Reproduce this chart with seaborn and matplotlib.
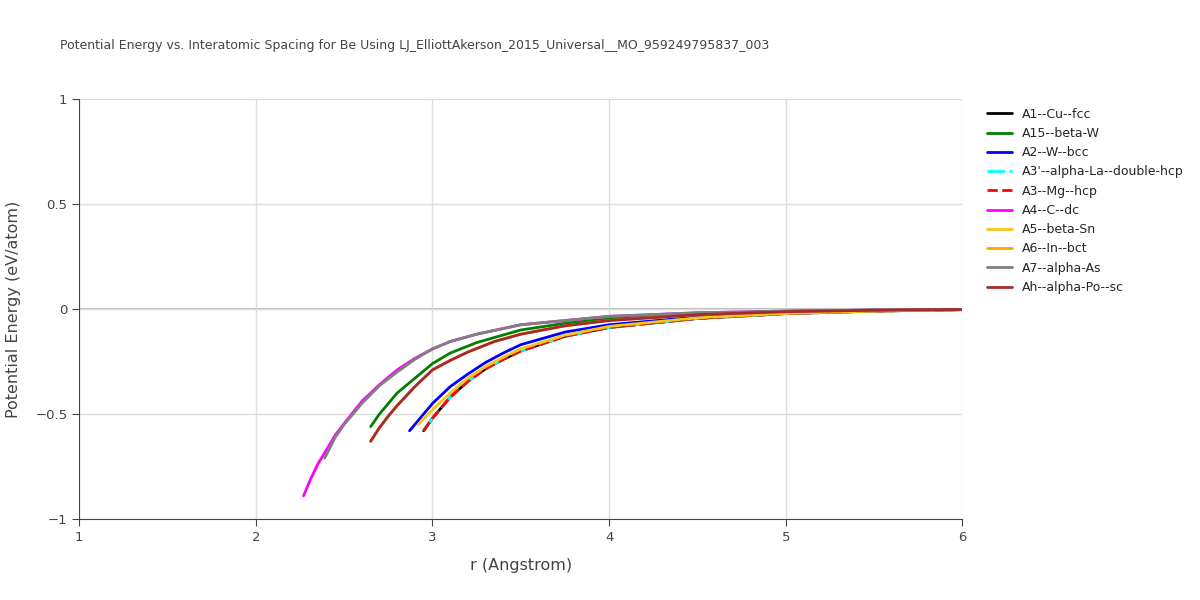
import matplotlib
matplotlib.use("Agg")
import matplotlib.pyplot as plt
import seaborn as sns
import pandas as pd

r_A1 = [2.95, 3.0, 3.05, 3.1, 3.2, 3.3, 3.4, 3.5, 3.75, 4.0, 4.5, 5.0, 5.5, 6.0]
e_A1 = [-0.58, -0.52, -0.47, -0.42, -0.345, -0.285, -0.24, -0.20, -0.13, -0.088, -0.045, -0.022, -0.010, -0.003]
r_A15 = [2.65, 2.7, 2.75, 2.8, 2.9, 3.0, 3.1, 3.25, 3.5, 3.75, 4.0, 4.5, 5.0, 5.5, 6.0]
e_A15 = [-0.56, -0.50, -0.45, -0.40, -0.33, -0.26, -0.21, -0.16, -0.10, -0.068, -0.045, -0.022, -0.011, -0.005, -0.002]
r_A2 = [2.87, 2.95, 3.0, 3.05, 3.1, 3.2, 3.3, 3.4, 3.5, 3.75, 4.0, 4.5, 5.0, 5.5, 6.0]
e_A2 = [-0.58, -0.50, -0.45, -0.41, -0.37, -0.31, -0.255, -0.21, -0.17, -0.11, -0.075, -0.038, -0.019, -0.009, -0.003]
r_A5 = [2.92, 3.0, 3.05, 3.1, 3.2, 3.3, 3.4, 3.5, 3.75, 4.0, 4.5, 5.0, 5.5, 6.0]
e_A5 = [-0.55, -0.48, -0.44, -0.40, -0.33, -0.275, -0.23, -0.19, -0.125, -0.083, -0.042, -0.021, -0.010, -0.003]
r_Ah = [2.65, 2.7, 2.75, 2.8, 2.9, 3.0, 3.1, 3.2, 3.35, 3.5, 3.75, 4.0, 4.5, 5.0, 5.5, 6.0]
e_Ah = [-0.63, -0.565, -0.51, -0.46, -0.37, -0.29, -0.245, -0.205, -0.155, -0.12, -0.08, -0.055, -0.027, -0.013, -0.006, -0.002]
r_A4 = [2.27, 2.31, 2.35, 2.4, 2.45, 2.5, 2.6, 2.7, 2.8, 2.9, 3.0, 3.1, 3.25, 3.5, 4.0, 4.5, 5.0, 5.5, 6.0]
e_A4 = [-0.89, -0.81, -0.74, -0.67, -0.60, -0.545, -0.44, -0.36, -0.29, -0.235, -0.19, -0.155, -0.12, -0.075, -0.035, -0.018, -0.010, -0.005, -0.002]
r_A7 = [2.39, 2.45, 2.5, 2.6, 2.7, 2.8, 2.9, 3.0, 3.1, 3.25, 3.5, 4.0, 4.5, 5.0, 5.5, 6.0]
e_A7 = [-0.71, -0.61, -0.55, -0.45, -0.365, -0.30, -0.24, -0.19, -0.155, -0.12, -0.075, -0.035, -0.018, -0.010, -0.005, -0.002]

series = [
    ("A1--Cu--fcc", r_A1, e_A1, "black", "-"),
    ("A15--beta-W", r_A15, e_A15, "green", "-"),
    ("A2--W--bcc", r_A2, e_A2, "blue", "-"),
    ("A3'--alpha-La--double-hcp", r_A1, e_A1, "cyan", "-."),
    ("A3--Mg--hcp", r_A1, e_A1, "red", "--"),
    ("A4--C--dc", r_A4, e_A4, "magenta", "-"),
    ("A5--beta-Sn", r_A5, e_A5, "#f5c518", "-"),
    ("A6--In--bct", r_Ah, e_Ah, "orange", "-"),
    ("A7--alpha-As", r_A7, e_A7, "gray", "-"),
    ("Ah--alpha-Po--sc", r_Ah, e_Ah, "brown", "-"),
]

sns.set_style("white")
fig = plt.figure(figsize=(12, 6), dpi=100)
ax = fig.add_axes([0.066, 0.135, 0.736, 0.70])
for name, r, e, c, ls in series:
    df = pd.DataFrame({"r": r, "E": e})
    sns.lineplot(data=df, x="r", y="E", ax=ax, color=c, linestyle=ls, lw=2, label=name)
ax.set_xlim(1, 6)
ax.set_ylim(-1, 1)
ax.set_xticks([1, 2, 3, 4, 5, 6])
ax.set_yticks([-1, -0.5, 0, 0.5, 1])
ax.set_yticklabels(["−1", "−0.5", "0", "0.5", "1"])
ax.grid(True, color="#dddddd", lw=1)
ax.axhline(0, color="#bbbbbb", lw=1.5, zorder=0)
for s in ["top", "right"]:
    ax.spines[s].set_visible(False)
ax.spines["left"].set_color("#444444")
ax.spines["bottom"].set_color("#444444")
ax.tick_params(colors="#444444", labelsize=9.5, length=5, direction="out", left=True, bottom=True)
ax.set_xlabel("r (Angstrom)", fontsize=11.5, color="#444444", labelpad=10)
ax.set_ylabel("Potential Energy (eV/atom)", fontsize=11.5, color="#444444", labelpad=10)
fig.text(0.05, 0.918, "Potential Energy vs. Interatomic Spacing for Be Using LJ_ElliottAkerson_2015_Universal__MO_959249795837_003",
         fontsize=9, color="#444444")
ax.legend(loc="upper left", bbox_to_anchor=(1.018, 1.0), frameon=False, fontsize=9,
          handlelength=2.0, labelspacing=0.5, borderaxespad=0.3)
fig.savefig("out.png", dpi=100)
